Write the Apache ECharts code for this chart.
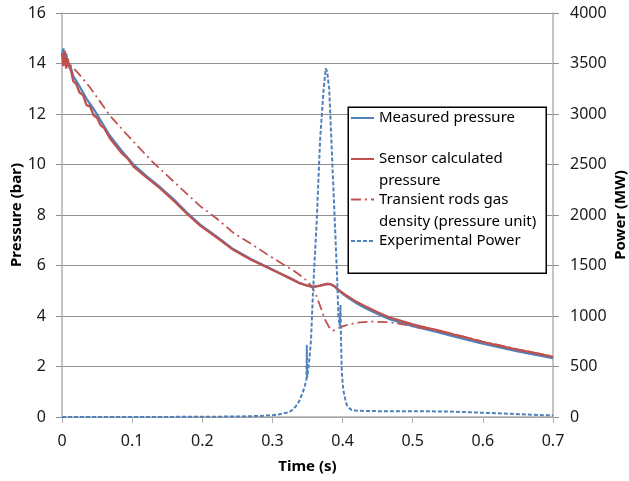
<!DOCTYPE html>
<html>
<head>
<meta charset="utf-8">
<script src="https://cdn.jsdelivr.net/npm/echarts@6/dist/echarts.min.js"></script>
<style>html,body{margin:0;padding:0;background:#fff;}#c{width:629px;height:481px;}</style>
</head>
<body>
<div id="c"></div>
<script>
// ---- data ----
const xTicks = [0, 0.1, 0.2, 0.3, 0.4, 0.5, 0.6, 0.7];
const pressureTicks = [0, 2, 4, 6, 8, 10, 12, 14, 16];
const powerTicks = [0, 500, 1000, 1500, 2000, 2500, 3000, 3500, 4000];

const measuredTime = [0,0.002,0.004,0.006,0.008,0.012,0.016,0.025,0.035,0.045,0.055,0.068,0.085,0.102,0.12,0.14,0.16,0.178,0.197,0.225,0.244,0.27,0.292,0.31,0.325,0.339,0.35,0.358,0.368,0.378,0.383,0.388,0.395,0.406,0.42,0.43,0.45,0.468,0.48,0.5,0.53,0.56,0.6,0.65,0.7];
const measuredPressure = [14.3,14.6,14.1,14.4,14.0,13.9,13.5,13.1,12.6,12.2,11.75,11.15,10.55,10.0,9.55,9.1,8.6,8.1,7.62,7.05,6.65,6.25,5.95,5.7,5.5,5.3,5.2,5.15,5.2,5.27,5.26,5.18,5.0,4.76,4.5,4.35,4.08,3.86,3.77,3.6,3.4,3.18,2.9,2.6,2.33];

const sensorTime = [0,0.002,0.004,0.006,0.008,0.01,0.013,0.016,0.02,0.025,0.03,0.035,0.04,0.045,0.05,0.055,0.06,0.068,0.075,0.085,0.093,0.102,0.12,0.14,0.16,0.178,0.197,0.225,0.244,0.27,0.292,0.31,0.325,0.339,0.35,0.358,0.368,0.378,0.383,0.388,0.395,0.406,0.42,0.43,0.45,0.468,0.48,0.5,0.52,0.53,0.55,0.56,0.58,0.6,0.62,0.65,0.67,0.7];
const sensorPressure = [14.4,13.9,14.5,13.8,14.2,13.9,13.7,13.3,13.2,12.85,12.75,12.35,12.3,11.95,11.85,11.55,11.45,11.05,10.8,10.45,10.25,9.92,9.5,9.05,8.55,8.05,7.58,7.02,6.62,6.22,5.93,5.69,5.49,5.3,5.2,5.15,5.2,5.27,5.26,5.19,5.02,4.8,4.56,4.42,4.15,3.93,3.84,3.67,3.53,3.47,3.33,3.25,3.12,2.97,2.85,2.66,2.56,2.38];

const rodsTime = [0,0.005,0.01,0.023,0.04,0.054,0.068,0.092,0.128,0.164,0.197,0.221,0.244,0.27,0.292,0.315,0.33,0.345,0.355,0.362,0.368,0.375,0.382,0.387,0.393,0.401,0.42,0.44,0.468,0.49,0.506,0.52,0.56,0.6,0.65,0.7];
const rodsPressure = [14.4,14.2,14.0,13.62,13.05,12.5,11.95,11.2,10.13,9.2,8.35,7.85,7.3,6.85,6.45,6.05,5.8,5.5,5.2,4.85,4.4,3.85,3.5,3.42,3.5,3.6,3.74,3.78,3.75,3.65,3.55,3.5,3.27,2.99,2.68,2.4];

const powerTime = [0,0.1,0.2,0.25,0.28,0.3,0.31,0.32,0.325,0.33,0.335,0.339,0.343,0.346,0.3485,0.349,0.3495,0.351,0.353,0.355,0.358,0.363,0.368,0.373,0.376,0.378,0.381,0.384,0.389,0.392,0.394,0.396,0.397,0.398,0.399,0.401,0.404,0.406,0.41,0.413,0.42,0.45,0.5,0.55,0.6,0.65,0.7];
const powerMW = [0,0,2,5,10,18,28,42,53,80,120,169,240,301,370,714,390,466,600,764,1260,1923,2750,3245,3451,3420,3245,2750,1923,1426,995,900,1110,700,433,268,170,119,85,70,62,58,57,55,42,28,15];

const seriesNames = ['Measured pressure', 'Sensor calculated pressure', 'Transient rods gas density (pressure unit)', 'Experimental Power'];
// leading blank line keeps the legend line beside the first text line
const legendLabels = ['Measured pressure', '\nSensor calculated\npressure', '\nTransient rods gas\ndensity (pressure unit)', 'Experimental Power'];

const pairs = (xs, ys) => xs.map((x, i) => [x, ys[i]]);

const BLUE = '#4F81BD', RED = '#C0504D';
const FONT = 'Noto Sans';
const GRIDC = '#8f8f8f', AXC = '#b0b0b0';

const chart = echarts.init(document.getElementById('c'), null, {renderer: 'canvas'});

function legendFor(i, top) {
  return {
    show: true, data: [seriesNames[i]], left: 350, top: top, padding: 0, z: 6,
    itemWidth: 23, itemHeight: 14,
    itemStyle: {opacity: 0},
    formatter: () => legendLabels[i],
    textStyle: {fontFamily: FONT, fontSize: 15, color: '#000', lineHeight: 22}
  };
}

chart.setOption({
  animation: false,
  grid: {left: 62, right: 76, top: 13, bottom: 64, containLabel: false, outerBoundsMode: 'none'},
  xAxis: {
    type: 'value', min: 0, max: 0.7, interval: 0.1,
    name: 'Time (s)', nameLocation: 'middle', nameGap: 42, nameMoveOverlap: false,
    nameTextStyle: {fontFamily: FONT, fontSize: 15, fontWeight: 'bold', color: '#000'},
    axisLine: {show: true, lineStyle: {color: AXC, width: 1.5}},
    axisTick: {show: true, inside: false, length: 6, lineStyle: {color: AXC, width: 1}},
    axisLabel: {fontFamily: FONT, fontSize: 16, color: '#1a1a1a', margin: 16,
      formatter: v => { const r = Math.round(v * 10) / 10; return xTicks.includes(r) ? String(r) : ''; }},
    splitLine: {show: false}
  },
  yAxis: [{
    type: 'value', min: 0, max: 16, interval: 2, position: 'left',
    name: 'Pressure (bar)', nameLocation: 'middle', nameGap: 38, nameMoveOverlap: false,
    nameTextStyle: {fontFamily: FONT, fontSize: 15, fontWeight: 'bold', color: '#000'},
    axisLine: {show: true, lineStyle: {color: AXC, width: 1.5}},
    axisTick: {show: true, inside: false, length: 6, lineStyle: {color: GRIDC, width: 1}},
    axisLabel: {fontFamily: FONT, fontSize: 16, color: '#1a1a1a', margin: 16,
      formatter: v => pressureTicks.includes(v) ? String(v) : ''},
    splitLine: {show: true, lineStyle: {color: GRIDC, width: 1}}
  }, {
    type: 'value', min: 0, max: 4000, interval: 500, position: 'right',
    name: 'Power (MW)', nameLocation: 'middle', nameGap: 60, nameMoveOverlap: false,
    nameTextStyle: {fontFamily: FONT, fontSize: 15, fontWeight: 'bold', color: '#000'},
    nameRotate: 90,
    axisLine: {show: true, lineStyle: {color: AXC, width: 1.5}},
    axisTick: {show: true, inside: false, length: 6, lineStyle: {color: GRIDC, width: 1}},
    axisLabel: {fontFamily: FONT, fontSize: 16, color: '#1a1a1a', margin: 17,
      formatter: v => powerTicks.includes(v) ? String(v) : ''},
    splitLine: {show: false}
  }],
  legend: [
    legendFor(0, 107),
    legendFor(1, 126),
    legendFor(2, 166.5),
    legendFor(3, 230)
  ],
  graphic: [{
    type: 'rect', z: 5, left: 347.5, top: 106.5,
    shape: {x: 0, y: 0, width: 198, height: 166},
    style: {fill: '#fff', stroke: '#000', lineWidth: 1.5}
  }],
  series: [{
    name: seriesNames[0], type: 'line', yAxisIndex: 0, showSymbol: false, symbol: 'none',
    data: pairs(measuredTime, measuredPressure),
    lineStyle: {color: BLUE, width: 2.25}, itemStyle: {color: BLUE}, z: 2
  }, {
    name: seriesNames[1], type: 'line', yAxisIndex: 0, showSymbol: false, symbol: 'none',
    data: pairs(sensorTime, sensorPressure),
    lineStyle: {color: RED, width: 2.25}, itemStyle: {color: RED}, z: 3
  }, {
    name: seriesNames[2], type: 'line', yAxisIndex: 0, showSymbol: false, symbol: 'none',
    data: pairs(rodsTime, rodsPressure),
    lineStyle: {color: RED, width: 1.75, type: [10, 4, 2, 4]}, itemStyle: {color: RED}, z: 3
  }, {
    name: seriesNames[3], type: 'line', yAxisIndex: 1, showSymbol: false, symbol: 'none',
    data: pairs(powerTime, powerMW),
    lineStyle: {color: BLUE, width: 2, type: [4, 2]}, itemStyle: {color: BLUE}, z: 4
  }]
});
</script>
</body>
</html>
